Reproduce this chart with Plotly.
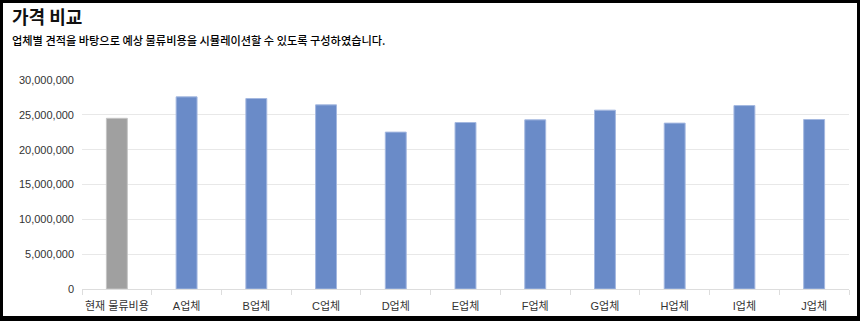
import plotly.graph_objects as go

categories = ["현재 물류비용", "A업체", "B업체", "C업체", "D업체", "E업체",
              "F업체", "G업체", "H업체", "I업체", "J업체"]
values = [24500000, 27580000, 27340000, 26430000, 22520000, 23900000,
          24280000, 25670000, 23810000, 26330000, 24330000]
bar_colors = ["#a0a0a0"] + ["#6a8bc8"] * 10
edge_colors = ["#c4c4c4"] + ["#a4b8e0"] * 10
y_ticks = [0, 5000000, 10000000, 15000000, 20000000, 25000000, 30000000]

title_text = "가격 비교"
subtitle_text = "업체별 견적을 바탕으로 예상 물류비용을 시뮬레이션할 수 있도록 구성하였습니다."

W, H = 860, 321
L, R, T, B = 82, 11, 80, 32
pw, ph = W - L - R, H - T - B


def px_x(x):
    return (x - L) / pw


def px_y(y):
    return (H - B - y) / ph


fig = go.Figure(
    go.Bar(
        x=categories,
        y=values,
        marker=dict(color=bar_colors, line=dict(color=edge_colors, width=1)),
        hoverinfo="x+y",
    )
)

font_fam = "Liberation Sans, Arial, Noto Sans CJK KR, sans-serif"

fig.update_layout(
    width=W,
    height=H,
    margin=dict(l=L, r=R, t=T, b=B, pad=0, autoexpand=False),
    paper_bgcolor="black",
    plot_bgcolor="white",
    bargap=0.7,
    showlegend=False,
    font=dict(family=font_fam, size=11, color="#333333"),
    xaxis=dict(
        showline=True,
        linecolor="#dddddd",
        linewidth=1,
        ticks="outside",
        tickson="boundaries",
        ticklen=5,
        tickcolor="#dddddd",
        showgrid=False,
        tickangle=0,
        automargin=False,
        ticklabelstandoff=7,
        tickfont=dict(family=font_fam, size=11, color="#333333"),
        fixedrange=True,
    ),
    yaxis=dict(
        range=[0, 30000000],
        tickvals=y_ticks,
        tickformat=",d",
        showgrid=True,
        gridcolor="#e8e8e8",
        gridwidth=1,
        zeroline=False,
        showline=False,
        automargin=False,
        ticklabelstandoff=7,
        tickfont=dict(family=font_fam, size=11, color="#333333"),
        fixedrange=True,
    ),
    shapes=[
        dict(
            type="rect",
            xref="paper",
            yref="paper",
            x0=px_x(3),
            x1=px_x(857),
            y0=px_y(316),
            y1=px_y(3),
            fillcolor="white",
            line=dict(width=0),
            layer="below",
        )
    ],
    annotations=[
        dict(
            text="<b>" + title_text + "</b>",
            xref="paper",
            yref="paper",
            x=px_x(10),
            y=px_y(15.5),
            xanchor="left",
            yanchor="middle",
            showarrow=False,
            font=dict(family="Noto Sans CJK KR, sans-serif", size=18, color="#111111"),
        ),
        dict(
            text=subtitle_text,
            xref="paper",
            yref="paper",
            x=px_x(10),
            y=px_y(40),
            xanchor="left",
            yanchor="middle",
            showarrow=False,
            font=dict(family="Noto Sans CJK KR, sans-serif", size=11.2,
                      color="#000000", weight=500),
        ),
    ],
)

fig.write_html("out.html")
